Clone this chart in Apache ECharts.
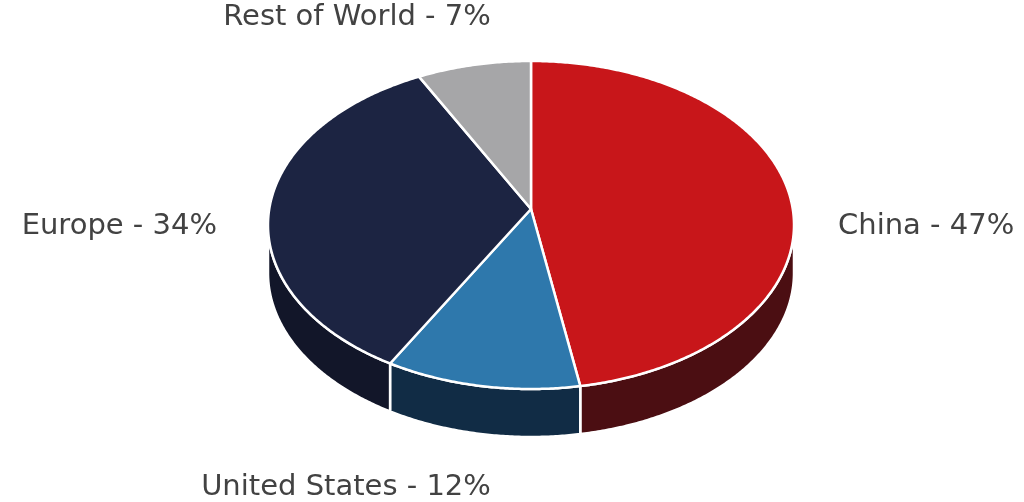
<!DOCTYPE html>
<html><head><meta charset="utf-8">
<script src="https://cdn.jsdelivr.net/npm/echarts@6/dist/echarts.min.js"></script>
<style>html,body{margin:0;padding:0;background:#fff}#c{width:1024px;height:502px}</style>
</head><body><div id="c"></div>
<script>
// ---- data ----
const categories = ['China', 'United States', 'Europe', 'Rest of World'];
const shares = [47, 12, 34, 7];

// ---- styles / layout ----
const topColors = ['#C8161A', '#2E78AC', '#1C2442', '#A6A6A8'];
const sideColors = ['#4B0E12', '#112C45', '#121629', '#6B6B6D'];
const L = { cx: 531, cy: 225, rx: 263, ry: 164, apexDy: -16, depth: 48 };
const labelPos = [[838, 226, 'left'], [346, 487, 'center'], [217, 226, 'right'], [357, 17, 'center']];

const total = shares.reduce((a, b) => a + b, 0);
const TWO_PI = Math.PI * 2;
function pt(t, dy) { return [L.cx + L.rx * Math.sin(t), L.cy - L.ry * Math.cos(t) + (dy || 0)]; }
function arcPts(a, b, dy) {
  const n = Math.max(2, Math.ceil((b - a) / (Math.PI / 360)));
  const out = [];
  for (let i = 0; i <= n; i++) out.push(pt(a + (b - a) * i / n, dy));
  return out;
}

const chart = echarts.init(document.getElementById('c'), null, { renderer: 'canvas' });
chart.setOption({
  animation: false,
  backgroundColor: '#ffffff',
  series: [{
    type: 'custom',
    coordinateSystem: 'none',
    data: shares.map((v, i) => ({ name: categories[i], value: [v] })),
    renderItem: function (params, api) {
      const i = params.dataIndex;
      let before = 0;
      for (let k = 0; k < i; k++) before += shares[k];
      const a = before / total * TWO_PI;
      const b = (before + api.value(0)) / total * TWO_PI;
      const children = [];
      const sa = Math.max(a, Math.PI / 2), sb = Math.min(b, Math.PI * 1.5);
      if (sb > sa) {
        const pts = arcPts(sa, sb, 0).concat(arcPts(sa, sb, L.depth).reverse());
        children.push({ type: 'polygon', shape: { points: pts },
          style: { fill: sideColors[i], stroke: '#ffffff', lineWidth: 2.5, lineJoin: 'round' } });
      }
      const apex = [L.cx, L.cy + L.apexDy];
      children.push({ type: 'polygon', shape: { points: [apex].concat(arcPts(a, b, 0)) },
        style: { fill: topColors[i], stroke: '#ffffff', lineWidth: 2.5, lineJoin: 'round' } });
      const lp = labelPos[i];
      children.push({ type: 'text', z2: 10,
        style: { text: categories[i] + ' - ' + shares[i] + '%', x: lp[0], y: lp[1],
          align: lp[2], verticalAlign: 'middle', fill: '#424242',
          fontSize: 29, fontFamily: 'DejaVu Sans', fontWeight: 'normal' } });
      return { type: 'group', children: children };
    }
  }]
});
</script>
</body></html>
